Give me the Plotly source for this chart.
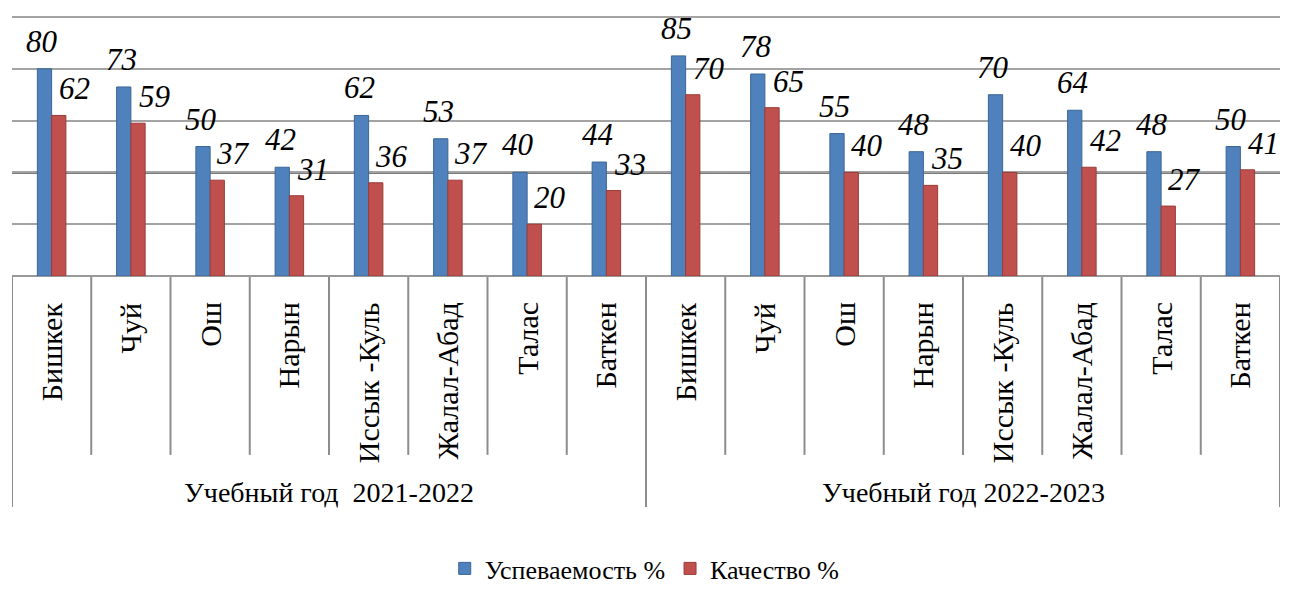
import plotly.graph_objects as go

regions = ["Бишкек", "Чуй", "Ош", "Нарын", "Иссык -Куль", "Жалал-Абад", "Талас", "Баткен"]
years = ["Учебный год  2021-2022", "Учебный год 2022-2023"]
uspev_2021 = [80, 73, 50, 42, 62, 53, 40, 44]
uspev_2022 = [85, 78, 55, 48, 70, 64, 48, 50]
kach_2021 = [62, 59, 37, 31, 36, 37, 20, 33]
kach_2022 = [70, 65, 40, 35, 40, 42, 27, 41]
series_names = ["Успеваемость %", "Качество %"]
grid_vals = [0, 20, 40, 60, 80, 100]

cats = regions + regions
uspev = uspev_2021 + uspev_2022
kach = kach_2021 + kach_2022
xs = list(range(len(cats)))

FONT = "Liberation Serif"
BLUE = "#4F81BD"
RED = "#C0504D"

fig = go.Figure()
fig.add_trace(go.Bar(x=xs, y=uspev, name=series_names[0],
                     marker=dict(color=BLUE, line=dict(color="#3A6696", width=1))))
fig.add_trace(go.Bar(x=xs, y=kach, name=series_names[1],
                     marker=dict(color=RED, line=dict(color="#9B3B38", width=1))))

bw = 0.18
ann = []
for i, (u, k) in enumerate(zip(uspev, kach)):
    ann.append(dict(x=i - bw / 2, y=u, xref="x", yref="y", text=str(u), showarrow=False,
                    xanchor="center", yanchor="bottom", xshift=-2, yshift=8,
                    font=dict(family=FONT, size=31, color="black", style="italic")))
    ann.append(dict(x=i + bw / 2, y=k, xref="x", yref="y", text=str(k), showarrow=False,
                    xanchor="center", yanchor="bottom", xshift=16, yshift=7,
                    font=dict(family=FONT, size=31, color="black", style="italic")))

# category labels (rotated)
for i, c in enumerate(cats):
    ann.append(dict(x=i, y=-0.0923, xref="x", yref="paper", text=c, showarrow=False,
                    textangle=-90, xanchor="center", yanchor="top",
                    font=dict(family=FONT, size=30, color="black")))
# group labels
n = len(regions)
for g, yr in enumerate(years):
    ann.append(dict(x=g * n + (n - 1) / 2, y=-0.831, xref="x", yref="paper", text=yr,
                    showarrow=False, xanchor="center", yanchor="middle",
                    font=dict(family=FONT, size=28, color="black")))

shapes = []
for b in range(len(cats) + 1):
    long_line = (b % n == 0)
    shapes.append(dict(type="line", xref="x", yref="paper", x0=b - 0.5, x1=b - 0.5,
                       y0=-0.004, y1=(-0.888 if long_line else -0.688),
                       line=dict(color="#8C8C8C", width=2)))
# the middle gridline is drawn darker in the original
shapes.append(dict(type="line", xref="paper", yref="y", x0=0, x1=1,
                   y0=grid_vals[2], y1=grid_vals[2], layer="below",
                   line=dict(color="#7A7A7A", width=3)))

# page body has an 8px margin: figure is sized to fit the 1292x592 window
fig.update_layout(
    width=1284, height=584,
    margin=dict(l=4, r=12, t=8, b=316, autoexpand=False),
    paper_bgcolor="white", plot_bgcolor="white",
    barmode="group", bargap=0.64, bargroupgap=0,
    showlegend=True,
    legend=dict(orientation="h", x=0.499, xanchor="center", y=-1.2154, yanchor="bottom",
                font=dict(family=FONT, size=26, color="black"), itemwidth=30,
                tracegroupgap=0, borderwidth=0),
    annotations=ann, shapes=shapes,
    font=dict(family=FONT),
)
fig.update_xaxes(range=[-0.5, len(cats) - 0.5], showticklabels=False, showgrid=False,
                 zeroline=False, showline=False, ticks="")
fig.update_yaxes(range=[0, 100.4], tickvals=grid_vals, showticklabels=False,
                 showgrid=True, gridcolor="#A3A3A3", gridwidth=2, zeroline=True,
                 zerolinecolor="#999999", zerolinewidth=2, showline=False, ticks="")

fig.write_html("out.html")
